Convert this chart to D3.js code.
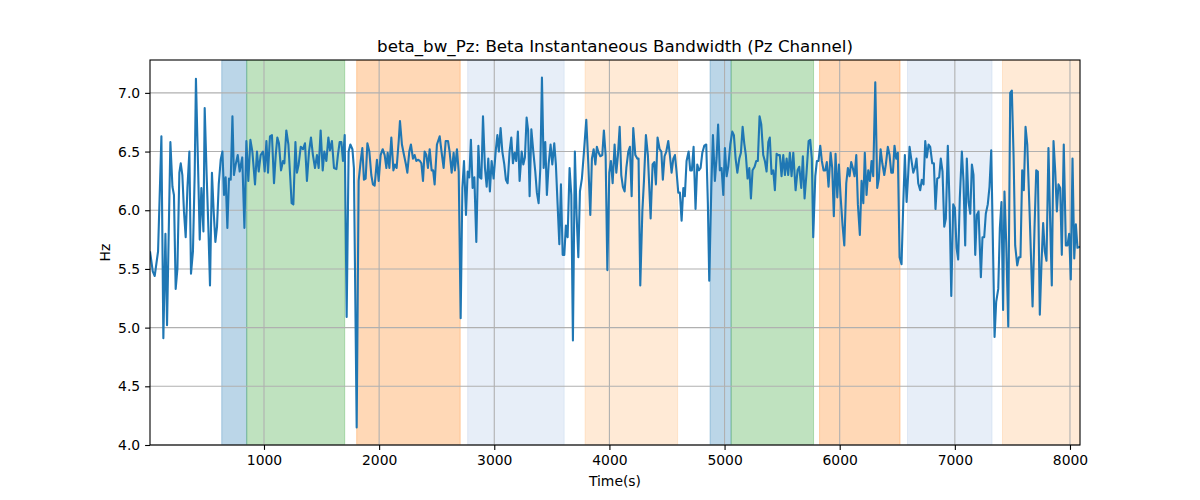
<!DOCTYPE html>
<html>
<head>
<meta charset="utf-8">
<script src="https://cdn.jsdelivr.net/npm/d3@7"></script>
<style>
  body { margin: 0; background: #fff; }
  svg text { font-family: "DejaVu Sans", sans-serif; fill: #000; }
</style>
</head>
<body>
<div id="chart"></div>
<script>
// time (s) of each sample
var times = [
  10,34,51,80,109,126,144,158,187,205,
  218,233,248,265,277,291,305,320,335,352,
  366,383,398,409,427,442,456,474,485,502,
  517,531,548,563,578,592,607,624,639,653,
  667,682,696,711,726,739,754,772,789,811,
  830,847,864,882,899,922,939,954,971,991,
  1006,1021,1035,1052,1069,1087,1102,1116,1130,1148,
  1165,1177,1194,1212,1229,1240,1255,1273,1286,1301,
  1319,1339,1356,1373,1391,1408,1425,1443,1460,1475,
  1492,1510,1524,1542,1559,1573,1590,1608,1629,1642,
  1657,1672,1686,1701,1718,1735,1750,1768,1781,1805,
  1822,1840,1854,1868,1883,1898,1915,1932,1946,1961,
  1981,1996,2013,2031,2048,2063,2074,2089,2106,2124,
  2137,2152,2170,2181,2198,2216,2233,2245,2262,2276,
  2294,2308,2323,2337,2354,2367,2381,2395,2410,2424,
  2439,2456,2469,2482,2502,2526,2543,2560,2578,2598,
  2612,2630,2647,2658,2676,2691,2708,2723,2737,2754,
  2769,2783,2797,2812,2827,2844,2862,2875,2888,2902,
  2919,2934,2948,2962,2977,2994,3012,3027,3040,3055,
  3070,3087,3101,3116,3133,3148,3162,3177,3191,3205,
  3220,3238,3252,3266,3281,3294,3307,3322,3339,3356,
  3370,3385,3400,3414,3429,3443,3457,3472,3489,3504,
  3521,3535,3550,3565,3579,3594,3608,3622,3637,3654,
  3669,3683,3700,3715,3730,3744,3761,3779,3799,3817,
  3834,3848,3863,3878,3891,3906,3921,3938,3952,3967,
  3982,3999,4013,4028,4045,4060,4074,4089,4103,4117,
  4132,4147,4164,4178,4193,4207,4225,4242,4253,4268,
  4286,4300,4317,4334,4358,4375,4390,4404,4418,4436,
  4451,4464,4479,4494,4511,4525,4540,4555,4569,4583,
  4598,4612,4627,4642,4655,4670,4688,4702,4716,4731,
  4748,4763,4777,4792,4807,4824,4841,4855,4867,4885,
  4899,4916,4931,4944,4959,4974,4989,5003,5018,5032,
  5050,5067,5081,5096,5111,5128,5142,5157,5171,5185,
  5200,5215,5229,5243,5261,5275,5289,5304,5319,5336,
  5350,5365,5380,5393,5408,5423,5437,5452,5466,5480,
  5495,5510,5524,5539,5553,5567,5582,5597,5617,5634,
  5649,5666,5680,5695,5712,5730,5744,5758,5770,5788,
  5802,5816,5831,5845,5860,5875,5888,5903,5921,5935,
  5949,5964,5979,5993,6007,6025,6040,6057,6071,6086,
  6100,6114,6129,6144,6158,6175,6190,6205,6218,6233,
  6248,6262,6277,6291,6309,6326,6340,6355,6370,6387,
  6401,6418,6433,6448,6462,6476,6491,6505,6520,6537,
  6552,6566,6581,6594,6607,6621,6639,6653,6667,6682,
  6699,6713,6728,6743,6757,6772,6786,6804,6818,6832,
  6847,6864,6878,6893,6908,6922,6939,6954,6969,6986,
  7000,7015,7029,7043,7061,7075,7090,7104,7119,7134,
  7148,7162,7177,7191,7206,7226,7240,7255,7269,7286,
  7301,7316,7330,7345,7359,7377,7391,7405,7419,7431,
  7446,7464,7481,7495,7510,7524,7542,7556,7570,7585,
  7599,7614,7629,7649,7675,7692,7707,7721,7738,7753,
  7767,7781,7796,7813,7828,7842,7857,7872,7886,7900,
  7915,7929,7946,7964,7978,7993,8007,8022,8037,8051,
  8065,8087
];

// beta instantaneous bandwidth (Hz)
var bandwidth = [
  5.65,5.48,5.44,5.65,6.63,4.91,5.80,5.02,6.58,6.20,
  6.13,5.33,5.50,6.32,6.40,6.30,5.99,5.77,6.19,6.50,
  5.46,5.65,6.30,7.12,6.39,5.75,6.19,5.82,6.87,6.30,
  5.85,5.36,6.32,5.99,5.73,5.86,6.22,6.43,6.50,6.13,
  6.28,5.85,6.27,6.26,6.80,6.30,6.39,6.47,6.33,6.45,
  5.85,6.59,6.25,6.60,6.50,6.22,6.50,6.33,6.47,6.50,
  6.33,6.59,6.32,6.63,6.64,6.23,6.47,6.62,6.57,6.34,
  6.42,6.40,6.68,6.56,6.26,6.06,6.05,6.58,6.32,6.39,
  6.54,6.52,6.57,6.25,6.50,6.62,6.47,6.36,6.47,6.36,
  6.68,6.34,6.50,6.42,6.62,6.51,6.59,6.36,6.35,6.47,
  6.58,6.58,6.42,6.64,5.09,6.50,6.56,6.52,6.36,4.15,
  6.25,6.42,6.53,6.26,6.27,6.57,6.50,6.30,6.22,6.21,
  6.43,6.25,6.47,6.52,6.47,6.36,6.49,6.36,6.62,6.34,
  6.39,6.36,6.59,6.76,6.56,6.47,6.39,6.32,6.50,6.56,
  6.44,6.47,6.42,6.43,6.42,6.40,6.25,6.50,6.47,6.36,
  6.52,6.34,6.34,6.22,6.56,6.63,6.49,6.36,6.59,6.59,
  6.50,6.32,6.49,6.34,6.52,6.33,5.08,6.19,6.42,5.96,
  6.33,6.28,6.60,6.19,6.28,5.73,6.55,6.28,6.27,6.80,
  6.36,6.20,6.44,6.16,6.42,6.27,6.50,6.64,6.50,6.70,
  6.50,6.39,6.26,6.23,6.50,6.62,6.40,6.49,6.42,6.67,
  6.25,6.50,6.39,6.45,6.79,6.68,6.12,6.69,6.50,6.33,
  6.15,6.06,6.36,7.13,6.36,6.58,6.13,6.39,6.56,6.39,
  6.57,6.39,6.05,5.71,6.22,5.62,5.62,5.87,5.77,6.36,
  6.13,4.89,6.50,5.96,5.60,6.16,6.27,6.50,6.77,6.39,
  5.96,6.44,6.52,6.39,6.54,6.49,6.46,6.47,6.68,6.47,
  5.49,6.32,6.42,6.23,6.56,6.32,6.47,6.71,6.30,6.20,
  6.16,6.36,6.50,6.54,6.12,6.70,6.47,6.44,6.44,5.36,
  5.99,6.25,6.64,6.47,5.93,6.39,6.41,6.22,6.62,6.52,
  6.50,6.26,6.46,6.50,6.59,6.47,6.32,6.44,6.47,6.33,
  6.15,6.15,5.91,6.19,6.12,6.42,6.50,6.34,6.34,6.54,
  6.01,6.39,6.34,6.36,6.49,6.55,6.56,6.06,5.40,6.19,
  6.64,6.25,6.45,6.73,6.34,6.36,6.13,6.53,6.29,6.37,
  6.56,6.67,6.64,6.44,6.32,6.44,6.49,6.71,6.57,6.47,
  6.27,6.36,6.10,6.34,6.37,6.42,6.42,6.80,6.73,6.47,
  6.42,6.33,6.58,6.62,6.31,6.34,6.17,6.48,6.47,6.47,
  6.29,6.47,6.30,6.44,6.30,6.49,6.29,6.49,6.17,6.34,
  6.37,6.19,6.46,6.10,6.32,6.59,6.60,6.44,5.77,6.29,
  6.42,6.42,6.55,6.42,6.34,6.34,6.41,6.20,6.49,6.36,
  5.95,6.48,6.11,6.39,6.13,5.87,5.70,6.23,6.36,6.29,
  6.41,6.36,6.29,6.47,6.05,5.79,6.25,6.06,6.49,6.13,
  6.34,6.25,6.42,6.29,7.09,6.19,6.27,6.52,6.40,6.30,
  6.39,6.54,6.47,6.32,6.32,6.55,6.44,6.49,5.60,5.54,
  6.05,6.47,6.07,6.29,6.54,6.44,6.32,6.36,6.44,6.23,
  6.17,6.26,6.22,6.59,6.45,6.56,6.54,6.40,6.40,6.01,
  6.27,6.28,6.44,6.33,5.86,5.93,6.55,6.06,5.27,6.05,
  6.02,5.68,5.58,6.10,6.50,6.25,5.70,6.44,6.07,5.97,
  6.39,6.30,5.62,5.96,5.99,5.43,5.77,5.77,5.97,6.05,
  6.20,6.51,5.76,4.92,5.22,5.33,5.85,6.07,5.15,6.16,
  5.73,5.01,7.00,7.02,6.47,5.70,5.53,5.60,5.60,6.34,
  6.17,6.71,6.56,5.99,5.18,5.85,6.34,6.33,5.11,5.56,
  5.89,5.65,5.57,6.53,5.90,5.36,6.59,6.33,5.99,6.22,
  6.19,5.62,6.56,5.70,5.70,5.80,5.41,6.44,5.59,5.88,
  5.68,5.69
];

// shaded segments
var segStart = [633, 850, 1805, 2769, 3789, 4874, 5057, 5825, 6589, 7414];
var segEnd   = [850, 1701, 2704, 3607, 4592, 5057, 5773, 6524, 7323, 8100];
var segColor = ["#1f77b4", "#2ca02c", "#ff7f0e", "#aec7e8", "#ffbb78",
                "#1f77b4", "#2ca02c", "#ff7f0e", "#aec7e8", "#ffbb78"];

var xTicks = [1000, 2000, 3000, 4000, 5000, 6000, 7000, 8000];
var yTicks = [4.0, 4.5, 5.0, 5.5, 6.0, 6.5, 7.0];

var width = 1200, height = 500;
var margin = {top: 60, right: 120, bottom: 55, left: 150};
var widthp = width - margin.left - margin.right;
var heightp = height - margin.top - margin.bottom;

var data = times.map(function(t, i) { return {t: t, v: bandwidth[i]}; });
var segs = segStart.map(function(s, i) { return {s: s, e: segEnd[i], c: segColor[i]}; });

var svg = d3.select("#chart").append("svg")
  .attr("width", width)
  .attr("height", height);

var g = svg.append("g")
  .attr("transform", "translate(" + margin.left + "," + margin.top + ")");

var xScale = d3.scaleLinear().domain(d3.extent(times)).range([0, widthp]);
var yScale = d3.scaleLinear().domain([4.0, 7.28]).range([heightp, 0]);

g.append("clipPath").attr("id", "clip")
  .append("rect").attr("width", widthp).attr("height", heightp);

// shaded spans
g.append("g").attr("clip-path", "url(#clip)")
  .selectAll("rect")
  .data(segs)
  .enter()
  .append("rect")
  .attr("x", function(d) { return xScale(d.s); })
  .attr("width", function(d) { return xScale(d.e) - xScale(d.s); })
  .attr("y", 0)
  .attr("height", heightp)
  .attr("fill", function(d) { return d.c; })
  .attr("fill-opacity", 0.3)
  .attr("stroke", function(d) { return d.c; })
  .attr("stroke-opacity", 0.3)
  .attr("stroke-width", 1);

// grid
g.append("g")
  .selectAll("line.vg")
  .data(xTicks)
  .enter()
  .append("line")
  .attr("x1", function(d) { return xScale(d); })
  .attr("x2", function(d) { return xScale(d); })
  .attr("y1", 0).attr("y2", heightp)
  .attr("stroke", "#b0b0b0").attr("stroke-width", 1.1);
g.append("g")
  .selectAll("line.hg")
  .data(yTicks)
  .enter()
  .append("line")
  .attr("x1", 0).attr("x2", widthp)
  .attr("y1", function(d) { return yScale(d); })
  .attr("y2", function(d) { return yScale(d); })
  .attr("stroke", "#b0b0b0").attr("stroke-width", 1.1);

// line
g.append("path")
  .datum(data)
  .attr("clip-path", "url(#clip)")
  .attr("fill", "none")
  .attr("stroke", "#1f77b4")
  .attr("stroke-width", 2.1)
  .attr("stroke-linejoin", "round")
  .attr("d", d3.line()
    .x(function(d) { return xScale(d.t); })
    .y(function(d) { return yScale(d.v); }));

// axes
var xAxis = g.append("g")
  .attr("transform", "translate(0," + heightp + ")")
  .call(d3.axisBottom(xScale).tickValues(xTicks).tickFormat(d3.format("d")).tickSizeOuter(0).tickSize(4.9).tickPadding(4.9));
var yAxis = g.append("g")
  .call(d3.axisLeft(yScale).tickValues(yTicks).tickFormat(d3.format(".1f")).tickSizeOuter(0).tickSize(4.9).tickPadding(4.9));
[xAxis, yAxis].forEach(function(a) {
  a.selectAll("text").style("font-size", "13.9px");
  a.selectAll("line").attr("stroke", "#000").attr("stroke-width", 1.1);
  a.select(".domain").remove();
});

// frame
g.append("rect")
  .attr("width", widthp).attr("height", heightp)
  .attr("fill", "none").attr("stroke", "#000").attr("stroke-width", 1.1);

// labels
svg.append("text")
  .attr("x", margin.left + widthp / 2)
  .attr("y", margin.top - 8)
  .attr("text-anchor", "middle")
  .style("font-size", "16.7px")
  .text("beta_bw_Pz: Beta Instantaneous Bandwidth (Pz Channel)");
svg.append("text")
  .attr("x", margin.left + widthp / 2)
  .attr("y", 486)
  .attr("text-anchor", "middle")
  .style("font-size", "13.9px")
  .text("Time(s)");
svg.append("text")
  .attr("transform", "translate(110," + (margin.top + heightp / 2) + ") rotate(-90)")
  .attr("text-anchor", "middle")
  .style("font-size", "13.9px")
  .text("Hz");
</script>
</body>
</html>
